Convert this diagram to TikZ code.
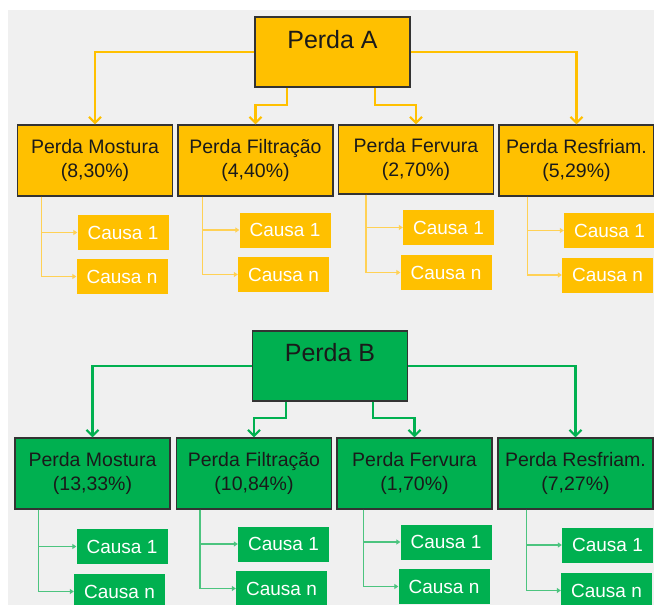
\documentclass[tikz,border=0pt]{standalone}
\usepackage{fontspec}
\setmainfont{Liberation Sans}
\usetikzlibrary{arrows.meta,calc}
\definecolor{ylw}{HTML}{FFC000}
\definecolor{grn}{HTML}{00B050}
\definecolor{ylwl}{HTML}{FFD155}
\definecolor{grnl}{HTML}{4CC47F}
\definecolor{bgc}{HTML}{F0F0F0}
\definecolor{edgec}{HTML}{333333}
\definecolor{txt}{HTML}{1A1A1A}
\begin{document}
\begin{tikzpicture}[x=1pt,y=-1pt,
  topbox/.style={draw=edgec,line width=1.2pt,minimum width=155pt,minimum height=70pt,inner sep=0pt},
  toptext/.style={text=txt,inner sep=0pt,font=\fontsize{25}{30}\selectfont},
  lossbox/.style={draw=edgec,line width=1.2pt,minimum width=155pt,minimum height=71pt,inner sep=0pt,align=center,text=txt,font=\fontsize{19.5}{23.5}\selectfont},
  causebox/.style={minimum width=91pt,minimum height=35pt,inner sep=0pt,text=white,font=\fontsize{19}{22}\selectfont},
  mainline/.style={line width=2.2pt,-{Straight Barb[length=6pt,width=12pt]}},
  causeline/.style={line width=1.3pt,-{Triangle[length=4pt,width=5pt]}},
]
\useasboundingbox (0,0) rectangle (654,605);
\clip (0,0) rectangle (654,605);
\fill[bgc] (8,10) rectangle (660,610);

% ---------- Perda A ----------
\node[topbox,fill=ylw] (A) at (332.5,52) {};
\node[toptext] (Atxt) at (332.5,40) {Perda A};

\node[lossbox,fill=ylw] (MA1) at (95,160.5) {Perda Mostura\\(8,30\%)};
\node[lossbox,fill=ylw] (MA2) at (255.5,160.5) {Perda Filtração\\(4,40\%)};
\node[lossbox,fill=ylw,minimum height=69pt] (MA3) at (416,159.5) {Perda Fervura\\(2,70\%)};
\node[lossbox,fill=ylw] (MA4) at (576.5,160.5) {Perda Resfriam.\\(5,29\%)};

\draw[mainline,ylw] (A.west) -| (MA1.north);
\draw[mainline,ylw] (A.east) -| (MA4.north);
\draw[mainline,ylw] ($(A.south)+(-45.5,0)$) -- ++(0,17) -| (MA2.north);
\draw[mainline,ylw] ($(A.south)+(42.5,0)$) -- ++(0,17) -| (MA3.north);

\node[causebox,fill=ylw] (YA11) at (123,232.5) {Causa 1};
\node[causebox,fill=ylw] (YA1n) at (122,276.5) {Causa n};
\node[causebox,fill=ylw] (YA21) at (285,230) {Causa 1};
\node[causebox,fill=ylw] (YA2n) at (283.5,274.5) {Causa n};
\node[causebox,fill=ylw] (YA31) at (448.5,227.5) {Causa 1};
\node[causebox,fill=ylw] (YA3n) at (446,272.5) {Causa n};
\node[causebox,fill=ylw] (YA41) at (609.5,230.5) {Causa 1};
\node[causebox,fill=ylw] (YA4n) at (607.5,275) {Causa n};

\draw[causeline,ylwl] ($(MA1.south west)+(24.5,0)$) |- (YA11.west);
\draw[causeline,ylwl] ($(MA1.south west)+(24.5,0)$) |- (YA1n.west);
\draw[causeline,ylwl] ($(MA2.south west)+(25,0)$) |- (YA21.west);
\draw[causeline,ylwl] ($(MA2.south west)+(25,0)$) |- (YA2n.west);
\draw[causeline,ylwl] ($(MA3.south west)+(28,0)$) |- (YA31.west);
\draw[causeline,ylwl] ($(MA3.south west)+(28,0)$) |- (YA3n.west);
\draw[causeline,ylwl] ($(MA4.south west)+(29,0)$) |- (YA41.west);
\draw[causeline,ylwl] ($(MA4.south west)+(29,0)$) |- (YA4n.west);

% ---------- Perda B ----------
\node[topbox,fill=grn] (B) at (330,366) {};
\node[toptext] (Btxt) at (330,353) {Perda B};

\node[lossbox,fill=grn] (MB1) at (92.5,473.5) {Perda Mostura\\(13,33\%)};
\node[lossbox,fill=grn] (MB2) at (254,473.5) {Perda Filtração\\(10,84\%)};
\node[lossbox,fill=grn] (MB3) at (414.5,473.5) {Perda Fervura\\(1,70\%)};
\node[lossbox,fill=grn] (MB4) at (575.5,473.5) {Perda Resfriam.\\(7,27\%)};

\draw[mainline,grn] (B.west) -| (MB1.north);
\draw[mainline,grn] (B.east) -| (MB4.north);
\draw[mainline,grn] ($(B.south)+(-44,0)$) -- ++(0,16) -| (MB2.north);
\draw[mainline,grn] ($(B.south)+(43,0)$) -- ++(0,16) -| (MB3.north);

\node[causebox,fill=grn] (GB11) at (122,546.5) {Causa 1};
\node[causebox,fill=grn] (GB1n) at (119.5,591.5) {Causa n};
\node[causebox,fill=grn] (GB21) at (283.5,544) {Causa 1};
\node[causebox,fill=grn] (GB2n) at (281.5,588.5) {Causa n};
\node[causebox,fill=grn] (GB31) at (446,542) {Causa 1};
\node[causebox,fill=grn] (GB3n) at (444,586.5) {Causa n};
\node[causebox,fill=grn] (GB41) at (607.5,545) {Causa 1};
\node[causebox,fill=grn] (GB4n) at (606.5,590.5) {Causa n};

\draw[causeline,grnl] ($(MB1.south west)+(24,0)$) |- (GB11.west);
\draw[causeline,grnl] ($(MB1.south west)+(24,0)$) |- (GB1n.west);
\draw[causeline,grnl] ($(MB2.south west)+(24,0)$) |- (GB21.west);
\draw[causeline,grnl] ($(MB2.south west)+(24,0)$) |- (GB2n.west);
\draw[causeline,grnl] ($(MB3.south west)+(27,0)$) |- (GB31.west);
\draw[causeline,grnl] ($(MB3.south west)+(27,0)$) |- (GB3n.west);
\draw[causeline,grnl] ($(MB4.south west)+(29,0)$) |- (GB41.west);
\draw[causeline,grnl] ($(MB4.south west)+(29,0)$) |- (GB4n.west);
\end{tikzpicture}
\end{document}
